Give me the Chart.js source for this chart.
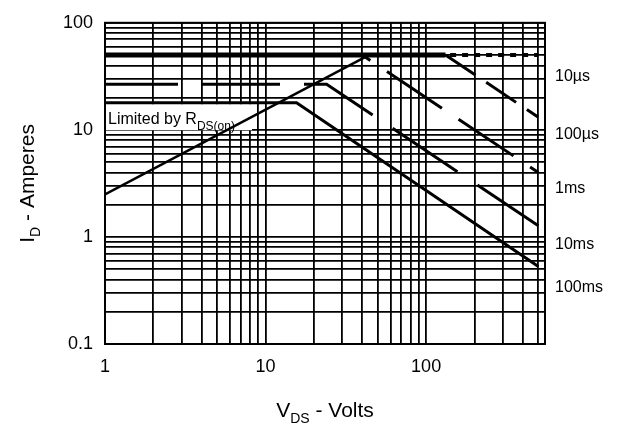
<!DOCTYPE html>
<html>
<head>
<meta charset="utf-8">
<script src="https://cdn.jsdelivr.net/npm/chart.js@4.4.1/dist/chart.umd.min.js"></script>
<style>
  html, body { margin: 0; padding: 0; background: #fff; }
</style>
</head>
<body>
<canvas class="js-chart" width="620" height="428"></canvas>
<script>
const ctx = document.querySelector(".js-chart").getContext("2d");
const FONT = "'Liberation Sans', Arial, sans-serif";

// ===== grid + tick labels =====
const xGrid = [1, 2, 3, 4, 5, 6, 7, 8, 9, 10, 20, 30, 40, 50, 60, 70, 80, 90, 100, 200, 300, 400, 500];
const xLabels = [1, 10, 100];
const yGrid = [0.1, 0.2, 0.3, 0.4, 0.5, 0.6, 0.7, 0.8, 0.9, 1, 2, 3, 4, 5, 6, 7, 8, 9, 10, 20, 30, 40, 50, 60, 70, 80, 90, 100];
const yLabels = [0.1, 1, 10, 100];

// ===== SOA curves (V, A) =====
const rdsVolts = [1, 44];
const rdsAmps = [2.5, 50];
const us10Volts = [1, 132, 500];
const us10Amps = [50, 50, 13.1];
const peakVolts = [100, 500];
const peakAmps = [50, 50];
const us100Volts = [1, 40, 500];
const us100Amps = [50, 50, 4.0];
const ms1Volts = [1, 24, 500];
const ms1Amps = [26.7, 26.7, 1.27];
const ms10Volts = [1, 15.6, 500];
const ms10Amps = [17.9, 17.9, 0.53];

// ===== labels on the right =====
const pulseNames = ["10µs", "100µs", "1ms", "10ms", "100ms"];
const pulseAmps = [31.6, 9.0, 2.8, 0.85, 0.34];

function toPoints(xs, ys) {
  return xs.map((x, i) => ({ x, y: ys[i] }));
}

// text with a subscript part, returns total width
function subText(c, main, sub, rest, x, y, size, subSize, draw) {
  c.font = size + "px " + FONT;
  const w1 = c.measureText(main).width;
  const w3 = c.measureText(rest).width;
  c.font = subSize + "px " + FONT;
  const w2 = c.measureText(sub).width;
  if (draw) {
    c.font = size + "px " + FONT;
    c.fillText(main, x, y);
    c.font = subSize + "px " + FONT;
    c.fillText(sub, x + w1, y + size * 0.3);
    c.font = size + "px " + FONT;
    c.fillText(rest, x + w1 + w2, y);
  }
  return w1 + w2 + w3;
}

const extras = {
  id: "extras",
  beforeDatasetsDraw(chart) {
    const { ctx: c, chartArea: a, scales: { y } } = chart;
    const ty = y.getPixelForValue(11.3);
    c.save();
    c.fillStyle = "#fff";
    c.fillRect(a.left + 1, ty - 20, 146, 26);
    c.fillStyle = "#000";
    c.textBaseline = "alphabetic";
    c.textAlign = "left";
    c.font = "16px " + FONT;
    c.fillText("Limited by R", a.left + 3, ty);
    const w = c.measureText("Limited by R").width;
    c.font = "12px " + FONT;
    c.fillText("DS(on)", a.left + 3 + w, ty + 6);
    c.restore();
  },
  afterDraw(chart) {
    const { ctx: c, chartArea: a, scales: { y } } = chart;
    c.save();
    // frame
    c.strokeStyle = "#000";
    c.lineWidth = 2;
    c.strokeRect(a.left, a.top, a.right - a.left, a.bottom - a.top);

    c.fillStyle = "#000";
    c.textBaseline = "middle";
    c.textAlign = "left";
    c.font = "16px " + FONT;
    pulseNames.forEach((name, i) => {
      c.fillText(name, a.right + 10, y.getPixelForValue(pulseAmps[i]));
    });

    // axis titles
    c.textBaseline = "alphabetic";
    const wx = subText(c, "V", "DS", " - Volts", 0, 0, 21, 14, false);
    subText(c, "V", "DS", " - Volts", (a.left + a.right) / 2 - wx / 2, 417, 21, 14, true);

    c.translate(34, (a.top + a.bottom) / 2);
    c.rotate(-Math.PI / 2);
    const wy = subText(c, "I", "D", " - Amperes", 0, 0, 21, 14, false);
    subText(c, "I", "D", " - Amperes", -wy / 2, 0, 21, 14, true);
    c.restore();
  },
};

new Chart(ctx, {
  type: "line",
  data: {
    datasets: [
      {
        label: "10µs",
        data: toPoints(us10Volts, us10Amps),
        borderColor: "#000",
        borderWidth: 3,
        segment: {
          borderWidth: (s) => (s.p0DataIndex === 0 ? 5 : 3),
          borderDash: (s) => (s.p0DataIndex === 0 ? [] : [36, 13]),
        },
      },
      {
        label: "limit",
        data: toPoints(peakVolts, peakAmps),
        borderColor: "#000",
        borderWidth: 4,
        borderDash: [6, 6],
      },
      {
        label: "RDS(on)",
        data: toPoints(rdsVolts, rdsAmps),
        borderColor: "#000",
        borderWidth: 2.5,
      },
      {
        label: "100µs",
        data: toPoints(us100Volts, us100Amps),
        borderColor: "#000",
        borderWidth: 3,
        borderDash: [66, 20],
        borderDashOffset: 57,
      },
      {
        label: "1ms",
        data: toPoints(ms1Volts, ms1Amps),
        borderColor: "#000",
        borderWidth: 3,
        borderDash: [78, 24],
        borderDashOffset: 5,
      },
      {
        label: "10ms",
        data: toPoints(ms10Volts, ms10Amps),
        borderColor: "#000",
        borderWidth: 3,
      },
    ],
  },
  options: {
    responsive: false,
    animation: false,
    layout: { padding: { top: 15, right: 75, bottom: 0, left: 0 } },
    elements: { point: { radius: 0 }, line: { tension: 0 } },
    plugins: { legend: { display: false }, tooltip: { enabled: false } },
    scales: {
      x: {
        type: "logarithmic",
        min: 1,
        max: 550,
        afterBuildTicks(scale) {
          scale.ticks = xGrid.map((v) => ({ value: v }));
        },
        afterFit(scale) {
          scale.height = 84;
        },
        border: { display: false },
        grid: { color: "#000", lineWidth: 1.8, drawTicks: false },
        ticks: {
          autoSkip: false,
          maxRotation: 0,
          padding: 12,
          color: "#000",
          font: { family: FONT, size: 18 },
          callback(value) {
            return xLabels.includes(value) ? String(value) : "";
          },
        },
      },
      y: {
        type: "logarithmic",
        min: 0.1,
        max: 100,
        afterBuildTicks(scale) {
          scale.ticks = yGrid.map((v) => ({ value: v }));
        },
        afterFit(scale) {
          scale.width = 105;
        },
        border: { display: false },
        grid: { color: "#000", lineWidth: 1.8, drawTicks: false },
        ticks: {
          autoSkip: false,
          padding: 12,
          color: "#000",
          font: { family: FONT, size: 18 },
          callback(value) {
            return yLabels.includes(value) ? String(value) : "";
          },
        },
      },
    },
  },
  plugins: [extras],
});
</script>
</body>
</html>
